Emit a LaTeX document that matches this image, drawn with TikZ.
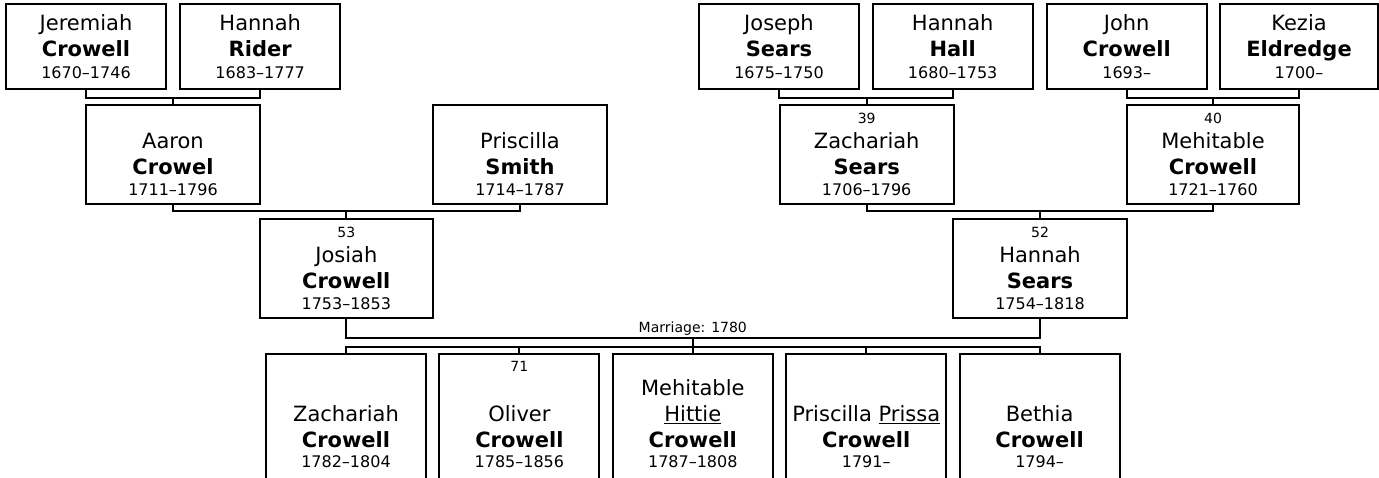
\documentclass[tikz,border=0pt]{standalone}
\usepackage{fontspec}
\setmainfont{DejaVu Sans}
\newcommand{\numf}{\fontsize{14}{14}\selectfont}
\newcommand{\datef}{\fontsize{16}{16}\selectfont}
\newcommand{\surn}[1]{{\bfseries #1}}
\begin{document}
\begin{tikzpicture}[x=1pt,y=-1pt,
  box/.style={draw, line width=2pt, inner sep=0pt, align=center, font=\fontsize{21}{26}\selectfont},
  gpbox/.style={box, minimum width=160pt, minimum height=85.3pt},
  pbox/.style={box, minimum width=174pt, minimum height=99pt},
  kidbox/.style={draw, line width=2pt, minimum width=160pt, minimum height=160pt, inner sep=0pt},
  kidtext/.style={inner sep=0pt, align=center, font=\fontsize{21}{26}\selectfont, anchor=south},
  numtext/.style={inner sep=0pt, font=\numf, anchor=base},
  conn/.style={line width=2pt}]
\useasboundingbox (0,0) rectangle (1379,478);
\fill[white] (0,0) rectangle (1379,478);
\clip (0,0) rectangle (1379,478);

% row 1
\node[gpbox] (jer) at (86,46.7) {Jeremiah\\\surn{Crowell}\\[-4.5pt]{\datef 1670–1746}};
\node[gpbox] (hri) at (260.2,46.7) {Hannah\\\surn{Rider}\\[-4.5pt]{\datef 1683–1777}};
\node[gpbox] (jos) at (779,46.7) {Joseph\\\surn{Sears}\\[-4.5pt]{\datef 1675–1750}};
\node[gpbox] (hha) at (952.7,46.7) {Hannah\\\surn{Hall}\\[-4.5pt]{\datef 1680–1753}};
\node[gpbox] (joh) at (1126.7,46.7) {John\\\surn{Crowell}\\[-4.5pt]{\datef 1693–}};
\node[gpbox, minimum width=158pt] (kez) at (1299,46.7) {Kezia\\\surn{Eldredge}\\[-4.5pt]{\datef 1700–}};

% row 2
\node[pbox] (aar) at (173,154.5) {{\numf\phantom{53}}\\[-1pt]Aaron\\\surn{Crowel}\\[-4.5pt]{\datef 1711–1796}};
\node[pbox] (psm) at (520,154.5) {{\numf\phantom{53}}\\[-1pt]Priscilla\\\surn{Smith}\\[-4.5pt]{\datef 1714–1787}};
\node[pbox] (zse) at (866.7,154.5) {{\numf 39}\\[-1pt]Zachariah\\\surn{Sears}\\[-4.5pt]{\datef 1706–1796}};
\node[pbox, minimum width=172pt] (mcr) at (1213,154.5) {{\numf 40}\\[-1pt]Mehitable\\\surn{Crowell}\\[-4.5pt]{\datef 1721–1760}};

% row 3
\node[pbox, minimum width=173pt, minimum height=98.7pt] (jsh) at (346.3,268.3) {{\numf 53}\\[-1pt]Josiah\\\surn{Crowell}\\[-4.5pt]{\datef 1753–1853}};
\node[pbox, minimum width=174.6pt, minimum height=98.7pt] (hse) at (1040,268.3) {{\numf 52}\\[-1pt]Hannah\\\surn{Sears}\\[-4.5pt]{\datef 1754–1818}};

% children boxes
\node[kidbox] (c1) at (346,434.3) {};
\node[kidbox] (c2) at (519.4,434.3) {};
\node[kidbox] (c3) at (692.8,434.3) {};
\node[kidbox] (c4) at (866.2,434.3) {};
\node[kidbox] (c5) at (1039.6,434.3) {};

\node[kidtext] (t1) at (346,467.7) {Zachariah\\\surn{Crowell}\\[-6pt]{\datef 1782–1804}};
\node[numtext] (n2) at (519.4,371.3) {71};
\node[kidtext] (t2) at (519.4,467.7) {Oliver\\\surn{Crowell}\\[-6pt]{\datef 1785–1856}};
\node[kidtext] (t3) at (692.8,467.7) {Mehitable\\\underline{Hittie}\\\surn{Crowell}\\[-6pt]{\datef 1787–1808}};
\node[kidtext] (t4) at (866.2,467.7) {Priscilla \underline{Prissa}\\\surn{Crowell}\\[-6pt]{\datef 1791–}};
\node[kidtext] (t5) at (1039.6,467.7) {Bethia\\\surn{Crowell}\\[-6pt]{\datef 1794–}};

% connectors row1 -> row2
\coordinate (m1) at (173,97.7);
\draw[conn] (jer.south) |- (m1) -| (hri.south);
\draw[conn] (m1) -- (aar.north);
\coordinate (m2) at (866.7,97.7);
\draw[conn] (jos.south) |- (m2) -| (hha.south);
\draw[conn] (m2) -- (zse.north);
\coordinate (m3) at (1213,97.7);
\draw[conn] (joh.south) |- (m3) -| (kez.south);
\draw[conn] (m3) -- (mcr.north);

% row2 -> row3
\coordinate (m4) at (346.3,211.3);
\draw[conn] (aar.south) |- (m4) -| (psm.south);
\draw[conn] (m4) -- (jsh.north);
\coordinate (m5) at (1040,211.3);
\draw[conn] (zse.south) |- (m5) -| (mcr.south);
\draw[conn] (m5) -- (hse.north);

% marriage
\coordinate (mar) at (692.8,338.3);
\draw[conn] (jsh.south) |- (mar) -| (hse.south);
\node[numtext] (ml) at (692.8,332.8) {Marriage: 1780};
\coordinate (kids) at (692.8,346.7);
\draw[conn] (mar) -- (kids);
\draw[conn] (c1.north) |- (kids) -| (c5.north);
\draw[conn] (kids) -- (c3.north);
\draw[conn] (c2.north) -- (c2.north |- kids);
\draw[conn] (c4.north) -- (c4.north |- kids);
\end{tikzpicture}
\end{document}
